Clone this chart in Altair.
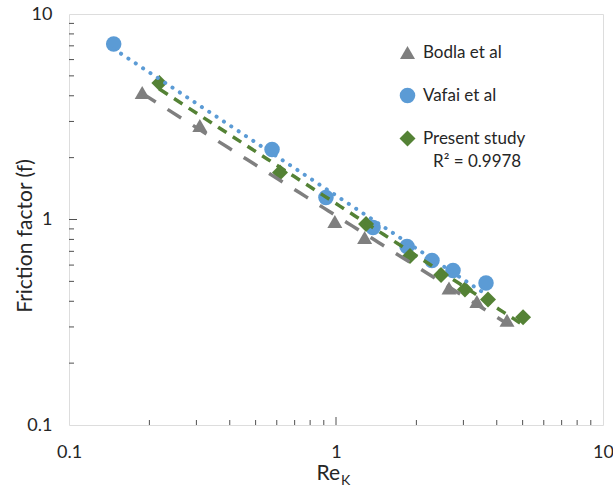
import altair as alt
import pandas as pd

# ---------------- data ----------------
series_names = ["Bodla et al", "Vafai et al", "Present study"]
series_colors = ["#7f7f7f", "#5b9bd5", "#548235"]
series_shapes = ["triangle-up", "circle", "diamond"]

bodla_re = [0.188, 0.309, 0.99, 1.28, 2.65, 3.37, 4.37]
bodla_f = [4.15, 2.87, 0.978, 0.817, 0.464, 0.399, 0.323]

vafai_re = [0.147, 0.576, 0.917, 1.376, 1.845, 2.288, 2.743, 3.646]
vafai_f = [7.14, 2.19, 1.28, 0.914, 0.739, 0.632, 0.565, 0.491]

present_re = [0.218, 0.617, 1.296, 1.893, 2.474, 3.04, 3.71, 5.02]
present_f = [4.62, 1.693, 0.951, 0.664, 0.537, 0.456, 0.408, 0.334]

axis_label_values = [0.1, 1, 10]
minor_tick_values = [0.2, 0.3, 0.4, 0.5, 0.6, 0.7, 0.8, 0.9, 2, 3, 4, 5, 6, 7, 8, 9]
major_tick_values = [1]

y_title = "Friction factor (f)"
x_title_main = ["Re"]
x_title_sub = ["K"]
r2_text = ["R² = 0.9978"]

# ---------------- tables ----------------
rows = []
for name, xs, ys in [(series_names[0], bodla_re, bodla_f),
                     (series_names[1], vafai_re, vafai_f),
                     (series_names[2], present_re, present_f)]:
    for a, b in zip(xs, ys):
        rows.append({"Series": name, "Re": a, "f": b})
pts = pd.DataFrame(rows)

W, H = 534, 411
FONT = "Lato"
TXT = "#262626"
AX = "#505050"

x_scale = alt.Scale(type="log", domain=[0.1, 10], nice=False)
y_scale = alt.Scale(type="log", domain=[0.1, 10], nice=False)

leg = dict(orient="none", legendX=330, legendY=30, title=None, symbolSize=100,
           labelFontSize=17, labelFont=FONT, labelColor=TXT, rowPadding=25,
           labelOffset=7, padding=0, symbolStrokeWidth=0, symbolOpacity=1)

points = alt.Chart(pts).mark_point(filled=True, opacity=1, strokeWidth=0).encode(
    x=alt.X("Re:Q", scale=x_scale,
            axis=alt.Axis(values=axis_label_values, format="~g", ticks=False, domain=False,
                          grid=False, labelPadding=18, title=None, labelFontSize=18,
                          labelFlush=False, labelFont=FONT, labelColor=TXT)),
    y=alt.Y("f:Q", scale=y_scale,
            axis=alt.Axis(values=axis_label_values, format="~g", ticks=False, domain=False,
                          grid=False, labelPadding=17, title=y_title, titleFontSize=21,
                          titleFont=FONT, titleFontWeight="normal", titleColor=TXT,
                          titleX=-44, titleY=H / 2 + 16, titleBaseline="middle", titleAlign="center",
                          labelFlush=False, labelFontSize=18, labelFont=FONT, labelColor=TXT)),
    color=alt.Color("Series:N", scale=alt.Scale(domain=series_names, range=series_colors),
                    legend=alt.Legend(**leg)),
    shape=alt.Shape("Series:N", scale=alt.Scale(domain=series_names, range=series_shapes),
                    legend=alt.Legend(**leg)),
    size=alt.Size("Series:N", scale=alt.Scale(domain=series_names, range=[225, 256, 225]),
                  legend=None),
)


def trend(name, color, dash, width, cap):
    df = pts[pts["Series"] == name]
    return alt.Chart(df).transform_regression("Re", "f", method="pow").mark_line(
        color=color, strokeDash=dash, strokeWidth=width, strokeCap=cap
    ).encode(x=alt.X("Re:Q", scale=x_scale), y=alt.Y("f:Q", scale=y_scale))


line_bodla = trend(series_names[0], series_colors[0], [16, 14], 3.5, "butt")
line_vafai = trend(series_names[1], series_colors[1], [0.1, 8.7], 4, "round")
line_present = trend(series_names[2], series_colors[2], [10, 7.5], 3.5, "butt")

minor_df = pd.DataFrame({"v": minor_tick_values})
major_df = pd.DataFrame({"v": major_tick_values})

xt_minor = alt.Chart(minor_df).mark_rule(color=AX, strokeWidth=1).encode(
    x=alt.X("v:Q", scale=x_scale), y=alt.value(H), y2=alt.value(H - 5))
xt_major = alt.Chart(major_df).mark_rule(color=AX, strokeWidth=1).encode(
    x=alt.X("v:Q", scale=x_scale), y=alt.value(H), y2=alt.value(H - 8))
yt_minor = alt.Chart(minor_df).mark_rule(color=AX, strokeWidth=1).encode(
    y=alt.Y("v:Q", scale=y_scale), x=alt.value(0), x2=alt.value(5))
yt_major = alt.Chart(major_df).mark_rule(color=AX, strokeWidth=1).encode(
    y=alt.Y("v:Q", scale=y_scale), x=alt.value(0), x2=alt.value(8))

re_text = alt.Chart(pd.DataFrame({"t": x_title_main})).mark_text(
    font=FONT, fontSize=21, color=TXT, align="right", baseline="alphabetic"
).encode(text="t:N", x=alt.value(271), y=alt.value(466))
k_text = alt.Chart(pd.DataFrame({"t": x_title_sub})).mark_text(
    font=FONT, fontSize=14, color=TXT, align="left", baseline="alphabetic"
).encode(text="t:N", x=alt.value(272), y=alt.value(471))
r2 = alt.Chart(pd.DataFrame({"t": r2_text})).mark_text(
    font=FONT, fontSize=17, color=TXT, align="left", baseline="middle"
).encode(text="t:N", x=alt.value(364), y=alt.value(148))

chart = alt.layer(
    points, line_bodla, line_vafai, line_present,
    xt_minor, xt_major, yt_minor, yt_major, re_text, k_text, r2
).properties(
    width=W, height=H,
    padding={"left": 69, "top": 14, "right": 10, "bottom": 62},
    autosize=alt.AutoSizeParams(type="none"),
).configure_view(stroke=AX, strokeWidth=1.3).configure(background="white")

chart.save("out.html", embed_options={"renderer": "svg", "actions": False})
